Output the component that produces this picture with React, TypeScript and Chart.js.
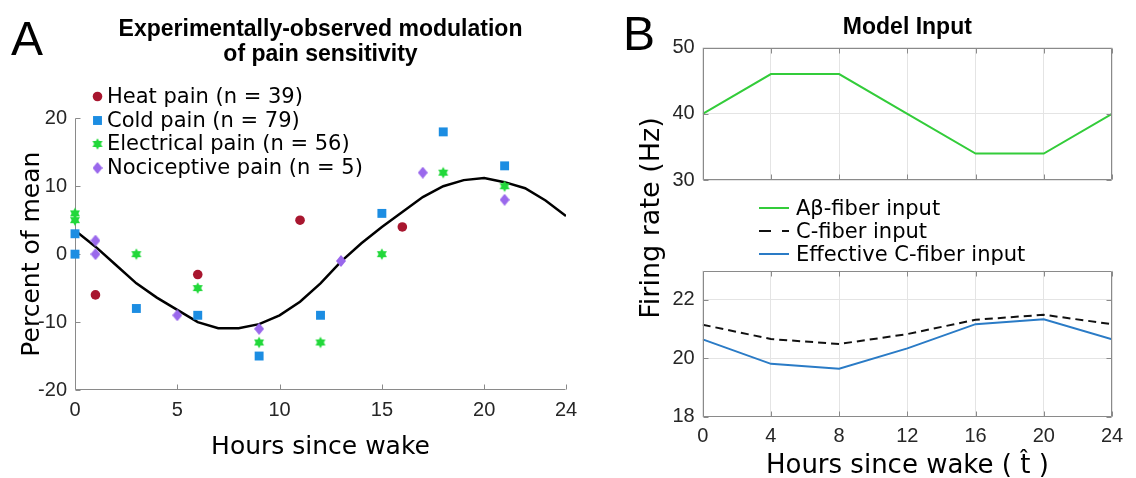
import React, { useEffect, useRef } from "react";
import { Chart, registerables } from "chart.js";
Chart.register(...registerables);

const TICK_FONT = "'Liberation Sans', Arial, Helvetica, sans-serif";
const LABEL_FONT = "'DejaVu Sans', sans-serif";

// ---------- Panel A data ----------
const heatHours = [1, 6, 11, 16];
const heatValues = [-6, -3, 5, 4];
const coldHours = [0, 0, 3, 6, 9, 12, 15, 18, 21];
const coldValues = [3, 0, -8, -9, -15, -9, 6, 18, 13];
const electricalHours = [0, 0, 3, 6, 9, 12, 15, 18, 21];
const electricalValues = [6, 5, 0, -5, -13, -13, 0, 12, 10];
const nociceptiveHours = [1, 1, 5, 9, 13, 17, 21];
const nociceptiveValues = [2, 0, -9, -11, -1, 12, 8];
const fitHours = [0, 1, 2, 3, 4, 5, 6, 7, 8, 9, 10, 11, 12, 13, 14, 15, 16, 17, 18, 19, 20, 21, 22, 23, 24];
const fitValues = [3.5, 1.1, -1.6, -4.3, -6.4, -8.2, -10.0, -10.9, -10.9, -10.3, -9.0, -7.0, -4.3, -1.1, 1.6, 4.0, 6.2, 8.4, 10.0, 10.9, 11.2, 10.6, 9.7, 7.9, 5.6];
const panelAXTicks = [0, 5, 10, 15, 20, 24];
const panelAYTicks = [-20, -10, 0, 10, 20];
const panelALegendLabels = ["Heat pain (n = 39)", "Cold pain (n = 79)", "Electrical pain (n = 56)", "Nociceptive pain (n = 5)"];

// ---------- Panel B data ----------
const modelHours = [0, 4, 8, 12, 16, 20, 24];
const abetaValues = [40, 46, 46, 40, 34, 34, 40];
const cFiberValues = [21.15, 20.66, 20.49, 20.83, 21.32, 21.49, 21.17];
const effectiveValues = [20.65, 19.81, 19.64, 20.34, 21.17, 21.34, 20.65];
const panelBXTicks = [0, 4, 8, 12, 16, 20, 24];
const panelBTopYTicks = [30, 40, 50];
const panelBBottomYTicks = [18, 20, 22];
const panelBLegendLabels = ["A\u03b2-fiber input", "C-fiber input", "Effective C-fiber input"];

const HEAT = "#A8162F";
const COLD = "#1C8DE2";
const ELEC = "#22D83A";
const NOCI = "#9A68EC";
const ABETA = "#33CC3A";
const CFIB = "#111111";
const EFF = "#2A7BC6";
const AXIS = "#8a8a8a";
const GRID = "#e4e4e4";
const TICK_COLOR = "#262626";

function pts(xs: number[], ys: number[]) {
  return xs.map((x, i) => ({ x, y: ys[i] }));
}

function makeHexagram(color: string, r: number) {
  const size = Math.ceil(r * 2) + 2;
  const c = document.createElement("canvas");
  c.width = size;
  c.height = size;
  const ctx = c.getContext("2d")!;
  const cx = size / 2;
  const cy = size / 2;
  ctx.fillStyle = color;
  for (const off of [-Math.PI / 2, Math.PI / 2]) {
    ctx.beginPath();
    for (let k = 0; k < 3; k++) {
      const a = off + (k * 2 * Math.PI) / 3;
      const px = cx + r * Math.cos(a);
      const py = cy + r * Math.sin(a);
      if (k === 0) ctx.moveTo(px, py);
      else ctx.lineTo(px, py);
    }
    ctx.closePath();
    ctx.fill();
  }
  return c;
}

function makeDiamond(color: string, w: number, h: number) {
  const c = document.createElement("canvas");
  c.width = w;
  c.height = h;
  const ctx = c.getContext("2d")!;
  ctx.fillStyle = color;
  ctx.beginPath();
  ctx.moveTo(w / 2, 0);
  ctx.lineTo(w, h / 2);
  ctx.lineTo(w / 2, h);
  ctx.lineTo(0, h / 2);
  ctx.closePath();
  ctx.fill();
  return c;
}

const px = (v: number) => Math.round(v) + 0.5;

function axesPlugin(box: boolean, hook: "beforeDatasetsDraw" | "afterDraw") {
  const draw = (chart: any) => {
    const { ctx, chartArea: a, scales } = chart;
    const L = px(a.left);
    const R = px(a.right) - 1;
    const T = px(a.top);
    const B = px(a.bottom) - 1;
    const tl = 5;
    ctx.save();
    ctx.strokeStyle = AXIS;
    ctx.lineWidth = 1;
    ctx.beginPath();
    ctx.moveTo(L, T);
    ctx.lineTo(L, B);
    ctx.lineTo(R, B);
    if (box) {
      ctx.lineTo(R, T);
      ctx.closePath();
    }
    for (const t of scales.x.ticks) {
      const x = px(scales.x.getPixelForValue(t.value));
      ctx.moveTo(x, B);
      ctx.lineTo(x, B - tl);
      if (box) {
        ctx.moveTo(x, T);
        ctx.lineTo(x, T + tl);
      }
    }
    for (const t of scales.y.ticks) {
      const y = px(scales.y.getPixelForValue(t.value));
      ctx.moveTo(L, y);
      ctx.lineTo(L + tl, y);
      if (box) {
        ctx.moveTo(R, y);
        ctx.lineTo(R - tl, y);
      }
    }
    ctx.stroke();
    ctx.restore();
  };
  return { id: "axesDecor", [hook]: draw } as any;
}

const legendAPlugin = {
  id: "legendA",
  afterDraw(chart: any) {
    const ctx = chart.ctx;
    const rows = [96.5, 120.5, 144, 168];
    const mx = 97.5;
    const tx = 107;
    ctx.save();
    ctx.font = `21px ${LABEL_FONT}`;
    ctx.textBaseline = "middle";
    ctx.textAlign = "left";
    chart.data.datasets
      .filter((d: any) => d.inLegend)
      .forEach((d: any, i: number) => {
        const y = rows[i];
        const style = d.pointStyle;
        ctx.fillStyle = d.backgroundColor;
        if (style instanceof HTMLCanvasElement) {
          ctx.drawImage(style, mx - style.width / 2, y - style.height / 2);
        } else if (style === "rect") {
          const s = d.pointRadius * Math.SQRT1_2;
          ctx.fillRect(mx - s, y - s, 2 * s, 2 * s);
        } else {
          ctx.beginPath();
          ctx.arc(mx, y, d.pointRadius, 0, Math.PI * 2);
          ctx.fill();
        }
        ctx.fillStyle = "#000";
        ctx.fillText(d.label, tx, y + 1);
      });
    ctx.restore();
  },
};

const tickFont = { family: TICK_FONT, size: 20 };

function setTicks(values: number[]) {
  return (s: any) => {
    s.ticks = values.map((v) => ({ value: v }));
  };
}

export default function App() {
  const aRef = useRef<HTMLCanvasElement>(null);
  const bTopRef = useRef<HTMLCanvasElement>(null);
  const bBotRef = useRef<HTMLCanvasElement>(null);

  useEffect(() => {
    const hex = makeHexagram(ELEC, 5.8);
    const dia = makeDiamond(NOCI, 10, 12);

    const chartA = new Chart(aRef.current!, {
      type: "scatter",
      data: {
        datasets: [
          { label: panelALegendLabels[0], data: pts(heatHours, heatValues), pointStyle: "circle", pointRadius: 4.8, backgroundColor: HEAT, borderColor: HEAT, borderWidth: 0, clip: false, inLegend: true, order: 1 } as any,
          { label: panelALegendLabels[1], data: pts(coldHours, coldValues), pointStyle: "rect", pointRadius: 6.3, backgroundColor: COLD, borderColor: COLD, borderWidth: 0, clip: false, inLegend: true, order: 1 } as any,
          { label: panelALegendLabels[2], data: pts(electricalHours, electricalValues), pointStyle: hex, pointRadius: 6, backgroundColor: ELEC, borderColor: ELEC, borderWidth: 0, clip: false, inLegend: true, order: 1 } as any,
          { label: panelALegendLabels[3], data: pts(nociceptiveHours, nociceptiveValues), pointStyle: dia, pointRadius: 6, backgroundColor: NOCI, borderColor: NOCI, borderWidth: 0, clip: false, inLegend: true, order: 1 } as any,
          { label: "Fit", data: pts(fitHours, fitValues), showLine: true, borderColor: "#000", borderWidth: 2.5, pointRadius: 0, tension: 0, inLegend: false, order: 2 } as any,
        ],
      },
      options: {
        animation: false,
        responsive: false,
        layout: { padding: { left: 0, right: 34, top: 0, bottom: 0 } },
        plugins: {
          legend: { display: false },
          tooltip: { enabled: false },
          title: {
            display: true,
            fullSize: false,
            text: ["Experimentally-observed modulation", "of pain sensitivity"],
            color: "#000",
            font: { family: TICK_FONT, size: 23, weight: "bold", lineHeight: 1.05 },
            padding: { top: 18, bottom: 52 },
          },
        },
        scales: {
          x: {
            type: "linear",
            min: 0,
            max: 24,
            afterBuildTicks: setTicks(panelAXTicks),
            afterFit: (s: any) => { s.height = 88; },
            grid: { display: false, drawTicks: false },
            border: { display: false },
            ticks: { font: tickFont, color: TICK_COLOR, padding: 8, maxRotation: 0, autoSkip: false },
            title: { display: true, text: "Hours since wake", color: "#000", font: { family: LABEL_FONT, size: 25 }, padding: { top: 0, bottom: 16 } },
          },
          y: {
            type: "linear",
            min: -20,
            max: 20,
            afterBuildTicks: setTicks(panelAYTicks),
            afterFit: (s: any) => { s.width = 75; },
            grid: { display: false, drawTicks: false },
            border: { display: false },
            ticks: { font: tickFont, color: TICK_COLOR, padding: 8 },
            title: { display: true, text: "Percent of mean", color: "#000", font: { family: LABEL_FONT, size: 25 }, padding: { top: 17, bottom: 0 } },
          },
        },
      } as any,
      plugins: [axesPlugin(false, "beforeDatasetsDraw"), legendAPlugin],
    });

    const chartBTop = new Chart(bTopRef.current!, {
      type: "scatter",
      data: {
        datasets: [
          { label: panelBLegendLabels[0], data: pts(modelHours, abetaValues), showLine: true, borderColor: ABETA, backgroundColor: ABETA, borderWidth: 2, pointRadius: 0, tension: 0 },
        ],
      },
      options: {
        animation: false,
        responsive: false,
        layout: { padding: { left: 0, right: 24, top: 0, bottom: 0 } },
        plugins: {
          legend: { display: false },
          tooltip: { enabled: false },
          title: {
            display: true,
            fullSize: false,
            text: "Model Input",
            color: "#000",
            font: { family: TICK_FONT, size: 23, weight: "bold", lineHeight: 1.05 },
            padding: { top: 15.5, bottom: 8 },
          },
        },
        scales: {
          x: {
            type: "linear",
            min: 0,
            max: 24,
            afterBuildTicks: setTicks(panelBXTicks),
            afterFit: (s: any) => { s.height = 5; },
            grid: { color: GRID, drawTicks: false },
            border: { display: false },
            ticks: { display: false },
          },
          y: {
            type: "linear",
            min: 30,
            max: 50,
            afterBuildTicks: setTicks(panelBTopYTicks),
            afterFit: (s: any) => { s.width = 102.7; },
            grid: { color: GRID, drawTicks: false },
            border: { display: false },
            ticks: { font: tickFont, color: TICK_COLOR, padding: 8 },
          },
        },
      } as any,
      plugins: [axesPlugin(true, "afterDraw")],
    });

    const chartBBot = new Chart(bBotRef.current!, {
      type: "scatter",
      data: {
        datasets: [
          { label: panelBLegendLabels[1], data: pts(modelHours, cFiberValues), showLine: true, borderColor: CFIB, backgroundColor: CFIB, borderWidth: 2, borderDash: [8, 5], pointRadius: 0, tension: 0 },
          { label: panelBLegendLabels[2], data: pts(modelHours, effectiveValues), showLine: true, borderColor: EFF, backgroundColor: EFF, borderWidth: 2, pointRadius: 0, tension: 0 },
        ],
      },
      options: {
        animation: false,
        responsive: false,
        layout: { padding: { left: 0, right: 24, top: 70.7, bottom: 0 } },
        plugins: { legend: { display: false }, tooltip: { enabled: false } },
        scales: {
          x: {
            type: "linear",
            min: 0,
            max: 24,
            afterBuildTicks: setTicks(panelBXTicks),
            afterFit: (s: any) => { s.height = 73.3; },
            grid: { color: GRID, drawTicks: false },
            border: { display: false },
            ticks: { font: tickFont, color: TICK_COLOR, padding: 8, maxRotation: 0, autoSkip: false },
            title: { display: true, text: "Hours since wake ( t\u0302 )", color: "#000", font: { family: LABEL_FONT, size: 26 }, padding: { top: 0, bottom: 7.7 } },
          },
          y: {
            type: "linear",
            min: 18,
            max: 23,
            afterBuildTicks: setTicks(panelBBottomYTicks),
            afterFit: (s: any) => { s.width = 102.7; },
            grid: { color: GRID, drawTicks: false },
            border: { display: false },
            ticks: { font: tickFont, color: TICK_COLOR, padding: 8 },
          },
        },
      } as any,
      plugins: [axesPlugin(true, "afterDraw")],
    });

    return () => {
      chartA.destroy();
      chartBTop.destroy();
      chartBBot.destroy();
    };
  }, []);

  const legendB = [
    { label: panelBLegendLabels[0], color: ABETA, dashed: false },
    { label: panelBLegendLabels[1], color: CFIB, dashed: true },
    { label: panelBLegendLabels[2], color: EFF, dashed: false },
  ];

  return (
    <div style={{ position: "absolute", left: 0, top: 0, width: 1136, height: 478, overflow: "hidden", background: "#fff" }}>
      <canvas ref={aRef} width={600} height={478} style={{ position: "absolute", left: 0, top: 0, display: "block" }} />
      <canvas ref={bTopRef} width={536} height={200} style={{ position: "absolute", left: 600, top: 0, display: "block" }} />
      <canvas ref={bBotRef} width={536} height={290} style={{ position: "absolute", left: 600, top: 200, display: "block" }} />
      <div style={{ position: "absolute", left: 11, top: 15, fontFamily: TICK_FONT, fontSize: 48, lineHeight: 1, color: "#000" }}>A</div>
      <div style={{ position: "absolute", left: 623, top: 10, fontFamily: TICK_FONT, fontSize: 48, lineHeight: 1, color: "#000" }}>B</div>
      <div
        style={{
          position: "absolute",
          left: 649,
          top: 218,
          transform: "translate(-50%, -50%) rotate(-90deg)",
          fontFamily: LABEL_FONT,
          fontSize: 27,
          lineHeight: 1,
          whiteSpace: "nowrap",
          color: "#000",
        }}
      >
        Firing rate (Hz)
      </div>
      {legendB.map((e, i) => (
        <div key={e.label} style={{ position: "absolute", left: 759, top: 196.5 + 23 * i, height: 23, width: 300 }}>
          <div
            style={{
              position: "absolute",
              left: 0,
              top: 10.5,
              width: 30,
              height: 2,
              background: e.dashed ? `repeating-linear-gradient(to right, ${e.color} 0 12px, transparent 12px 23px)` : e.color,
            }}
          />
          <div style={{ position: "absolute", left: 37, top: 0, lineHeight: "23px", fontFamily: LABEL_FONT, fontSize: 21, color: "#000", whiteSpace: "nowrap" }}>
            {e.label}
          </div>
        </div>
      ))}
    </div>
  );
}
